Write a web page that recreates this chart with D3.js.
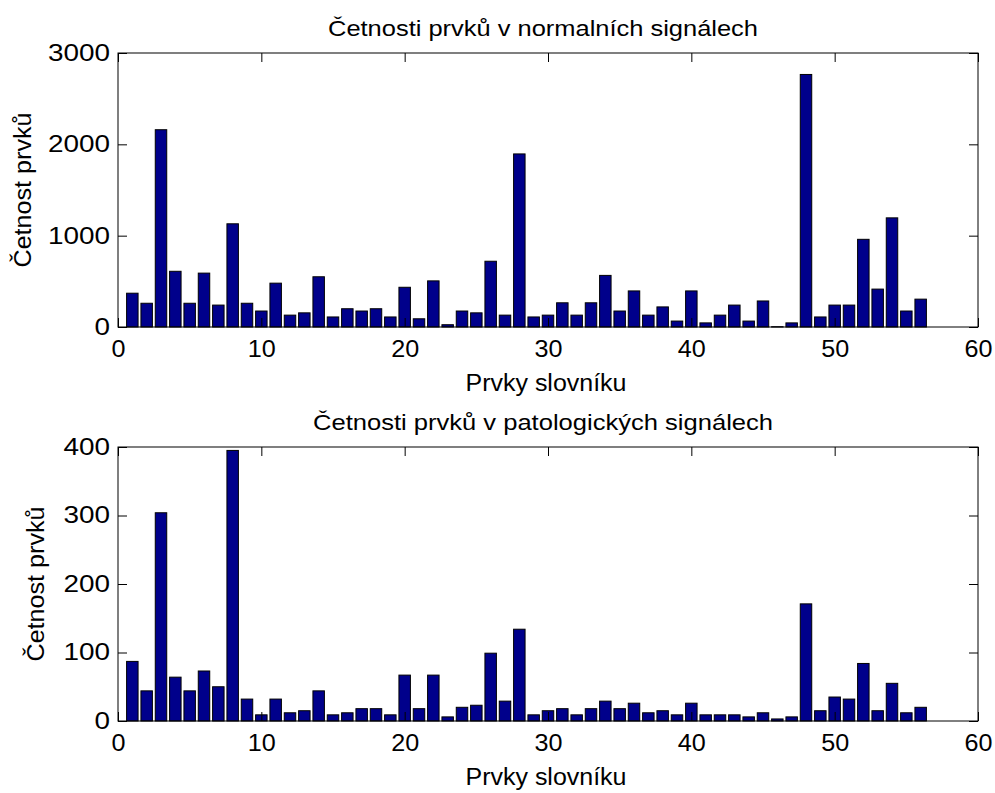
<!DOCTYPE html>
<html>
<head>
<meta charset="utf-8">
<script src="https://cdn.jsdelivr.net/npm/d3@7"></script>
<style>
  html, body { margin: 0; padding: 0; background: #fff; }
  svg text { font-family: "Liberation Sans", Arial, sans-serif; fill: #000; }
</style>
</head>
<body>
<svg id="chart" width="995" height="793"></svg>
<script>
// ---- data ----
const elements = [1,2,3,4,5,6,7,8,9,10,11,12,13,14,15,16,17,18,19,20,21,22,23,24,25,26,27,28,
  29,30,31,32,33,34,35,36,37,38,39,40,41,42,43,44,45,46,47,48,49,50,51,52,53,54,55,56];
const normalCounts = [370,260,2160,610,260,590,240,1130,260,175,480,130,155,550,110,200,175,200,110,435,
  90,505,25,175,155,720,130,1895,110,130,265,130,265,565,175,395,130,220,65,395,
  45,130,240,65,285,3,45,2765,110,240,240,960,415,1195,175,305];
const pathCounts = [87,44,304,64,44,73,50,395,32,9,32,12,15,44,9,12,18,18,9,67,
  18,67,6,20,23,99,29,134,9,15,18,9,18,29,18,26,12,15,9,26,
  9,9,9,6,12,3,6,171,15,35,32,84,15,55,12,20];
const xTicks = [0,10,20,30,40,50,60];
const yTicksNormal = [0,1000,2000,3000];
const yTicksPath = [0,100,200,300,400];
const titles = ["Četnosti prvků v normalních signálech", "Četnosti prvků v patologických signálech"];
const xLabel = "Prvky slovníku";
const yLabel = "Četnost prvků";

const svg = d3.select("#chart");
const left = 118, right = 978;
const panels = [
  {top: 53, bottom: 327, values: normalCounts, yMax: 3000, yTicks: yTicksNormal, title: titles[0],
   titleLen: 430, yLabelX: 31},
  {top: 447, bottom: 721, values: pathCounts, yMax: 400, yTicks: yTicksPath, title: titles[1],
   titleLen: 460, yLabelX: 44}
];
const tickLen = 9;
const barColor = "#00008B";

panels.forEach(p => {
  const x = d3.scaleLinear().domain([0, 60]).range([left, right]);
  const y = d3.scaleLinear().domain([0, p.yMax]).range([p.bottom, p.top]);
  const g = svg.append("g");
  const bw = (x(1) - x(0)) * 0.8;

  // bars
  g.selectAll("rect.bar").data(elements).join("rect")
    .attr("class", "bar")
    .attr("x", d => x(d) - bw / 2)
    .attr("width", bw)
    .attr("y", (d, i) => y(p.values[i]))
    .attr("height", (d, i) => y(0) - y(p.values[i]))
    .attr("fill", barColor)
    .attr("stroke", "#000")
    .attr("stroke-width", 1);

  const fmt = d3.format("d");
  // axes (inward ticks, mirrored)
  const ax = [
    {a: d3.axisBottom(x).tickValues(xTicks).tickFormat(fmt).tickSizeInner(-tickLen).tickSizeOuter(0).tickPadding(14), t: `translate(0,${p.bottom})`, kind: "x"},
    {a: d3.axisTop(x).tickValues(xTicks).tickSizeInner(-tickLen).tickSizeOuter(0).tickFormat(""), t: `translate(0,${p.top})`},
    {a: d3.axisLeft(y).tickValues(p.yTicks).tickFormat(fmt).tickSizeInner(-tickLen).tickSizeOuter(0).tickPadding(8), t: `translate(${left},0)`, kind: "y"},
    {a: d3.axisRight(y).tickValues(p.yTicks).tickSizeInner(-tickLen).tickSizeOuter(0).tickFormat(""), t: `translate(${right},0)`}
  ];
  ax.forEach(o => {
    const ag = g.append("g").attr("transform", o.t).call(o.a);
    ag.select(".domain").remove();
    ag.selectAll(".tick line").attr("stroke", "#000");
    ag.selectAll(".tick text")
      .attr("font-size", 23)
      .attr("font-family", "Liberation Sans, Arial, sans-serif")
      .attr("fill", "#000")
      .each(function() {
        const s = d3.select(this).text();
        if (!s) return;
        const per = o.kind === "y" ? 15.5 : 14;
        d3.select(this).attr("textLength", s.length * per).attr("lengthAdjust", "spacingAndGlyphs");
      });
  });

  // box
  g.append("rect").attr("x", left).attr("y", p.top).attr("width", right - left).attr("height", p.bottom - p.top)
    .attr("fill", "none").attr("stroke", "#000").attr("stroke-width", 1);

  // title
  g.append("text").attr("x", 543).attr("y", p.top - 17).attr("text-anchor", "middle")
    .attr("font-size", 22).attr("textLength", p.titleLen).attr("lengthAdjust", "spacingAndGlyphs")
    .text(p.title);
  // x label
  g.append("text").attr("x", 546).attr("y", p.bottom + 64).attr("text-anchor", "middle")
    .attr("font-size", 23).attr("textLength", 161).attr("lengthAdjust", "spacingAndGlyphs")
    .text(xLabel);
  // y label
  g.append("text").attr("transform", `translate(${p.yLabelX},${(p.top + p.bottom) / 2}) rotate(-90)`)
    .attr("text-anchor", "middle")
    .attr("font-size", 23).attr("textLength", 155).attr("lengthAdjust", "spacingAndGlyphs")
    .text(yLabel);
});
</script>
</body>
</html>
